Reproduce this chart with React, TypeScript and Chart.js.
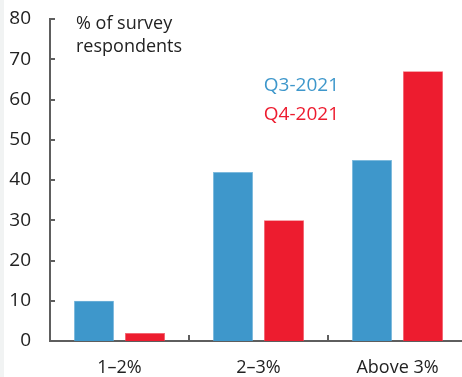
import React, { useEffect, useRef } from "react";
import { Chart, registerables } from "chart.js";

Chart.register(...registerables);

const categories = ["1–2%", "2–3%", "Above 3%"];
const q3Values = [10, 42, 45];
const q4Values = [2, 30, 67];
const seriesLabels = ["Q3-2021", "Q4-2021"];
const yTicks = [0, 10, 20, 30, 40, 50, 60, 70, 80];
const titleLines = ["% of survey", "respondents"];

const BLUE = "#3e97cb";
const RED = "#ed1c2f";
const AXIS = "#5e5e5e";
const TEXT = "#222222";
const FONT = "'Open Sans', 'Noto Sans', sans-serif";

export default function App() {
  const ref = useRef<HTMLCanvasElement | null>(null);

  useEffect(() => {
    if (!ref.current) return;
    const deco = {
      id: "deco",
      afterDraw(chart: any) {
        const ctx = chart.ctx;
        const x = chart.scales.x;
        const y = chart.scales.y;
        const area = chart.chartArea;
        ctx.save();
        ctx.strokeStyle = AXIS;
        ctx.lineWidth = 2;
        yTicks.forEach((v) => {
          const py = Math.round(y.getPixelForValue(v));
          ctx.beginPath();
          ctx.moveTo(area.left, py);
          ctx.lineTo(area.left + 5, py);
          ctx.stroke();
        });
        for (let i = 0; i < categories.length - 1; i++) {
          const px = Math.round((x.getPixelForValue(i) + x.getPixelForValue(i + 1)) / 2);
          ctx.beginPath();
          ctx.moveTo(px, area.bottom);
          ctx.lineTo(px, area.bottom - 6);
          ctx.stroke();
        }
        ctx.fillStyle = TEXT;
        ctx.font = `18px ${FONT}`;
        ctx.textAlign = "left";
        ctx.textBaseline = "alphabetic";
        ctx.fillText(titleLines[0], 76, 29);
        ctx.fillText(titleLines[1], 76, 52);
        ctx.font = `19px ${FONT}`;
        ctx.textAlign = "right";
        ctx.fillStyle = BLUE;
        ctx.fillText(seriesLabels[0], 339, 91);
        ctx.fillStyle = RED;
        ctx.fillText(seriesLabels[1], 339, 120);
        ctx.restore();
      },
    };

    const chart = new Chart(ref.current, {
      type: "bar",
      data: {
        labels: categories,
        datasets: [
          {
            label: seriesLabels[0],
            data: q3Values,
            backgroundColor: BLUE,
            borderColor: "#7fbce0",
            borderWidth: 0.5,
            categoryPercentage: 0.734,
            barPercentage: 0.784,
          },
          {
            label: seriesLabels[1],
            data: q4Values,
            backgroundColor: RED,
            borderColor: "#f26a75",
            borderWidth: 0.5,
            categoryPercentage: 0.734,
            barPercentage: 0.784,
          },
        ],
      },
      options: {
        animation: false,
        responsive: false,
        maintainAspectRatio: false,
        layout: { padding: { top: 19, left: 0, right: 3, bottom: 0 } },
        plugins: {
          legend: { display: false },
          tooltip: { enabled: false },
        },
        scales: {
          x: {
            grid: { display: false, drawTicks: false },
            border: { display: true, color: AXIS, width: 2 },
            ticks: {
              color: TEXT,
              font: { family: FONT, size: 18 },
              padding: 16,
            },
            afterFit(scale: any) {
              scale.height = 36;
              scale.paddingLeft = 0;
              scale.paddingRight = 0;
            },
          },
          y: {
            min: 0,
            max: 80,
            afterBuildTicks(scale: any) {
              scale.ticks = yTicks.map((v) => ({ value: v }));
            },
            grid: { display: false, drawTicks: false },
            border: { display: true, color: AXIS, width: 2 },
            ticks: {
              color: TEXT,
              font: { family: FONT, size: 19 },
              padding: 19,
            },
            afterFit(scale: any) {
              scale.width = 50;
              scale.paddingTop = 0;
              scale.paddingBottom = 0;
            },
          },
        },
      },
      plugins: [deco],
    });
    return () => chart.destroy();
  }, []);

  return (
    <div
      style={{
        position: "absolute",
        left: 0,
        top: 0,
        width: 462,
        height: 377,
        overflow: "hidden",
        background: "#ffffff",
      }}
    >
      <canvas ref={ref} width={470} height={377} style={{ display: "block", width: 470, height: 377 }} />
      <div
        style={{
          position: "absolute",
          left: 0,
          top: 0,
          width: 4,
          height: 377,
          background: "#f1f3f3",
        }}
      />
    </div>
  );
}
